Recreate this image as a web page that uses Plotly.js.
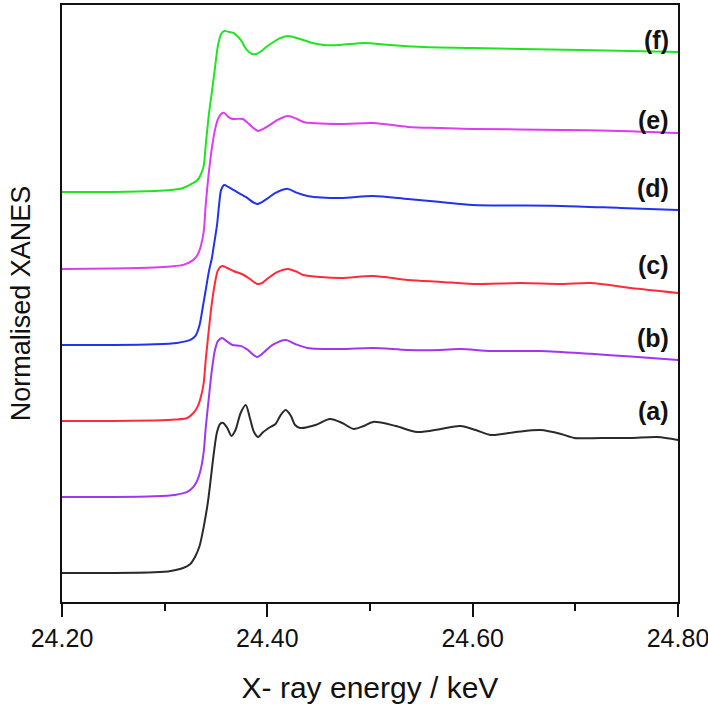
<!DOCTYPE html>
<html>
<head>
<meta charset="utf-8">
<script src="https://cdn.plot.ly/plotly-3.0.1.min.js"></script>
<style>
  html, body { margin: 0; padding: 0; background: #fff; }
  #chart { width: 708px; height: 713px; }
</style>
</head>
<body>
<div id="chart"></div>
<script>
// Normalised XANES spectra, each trace (pre-edge = 0)
const seriesNames = ['(a)', '(b)', '(c)', '(d)', '(e)', '(f)'];
const seriesColors = ['#2a2a2a', '#a035f5', '#ff2a3a', '#2233ee', '#dd3cf2', '#1ee61e'];
const seriesOffsets = [0, 0.563, 1.126, 1.689, 2.252, 2.822];
const labelHeights = [1.2, 1.741, 2.281, 2.852, 3.356, 3.948];

const energyA = [24.200, 24.250, 24.290, 24.306, 24.318, 24.325, 24.330, 24.334, 24.338, 24.342, 24.345, 24.348, 24.351, 24.354,
  24.357, 24.361, 24.365, 24.369, 24.374, 24.379, 24.383, 24.387, 24.391, 24.396, 24.403, 24.408, 24.413, 24.418,
  24.423, 24.427, 24.432, 24.447, 24.461, 24.473, 24.484, 24.494, 24.503, 24.525, 24.546, 24.569, 24.588, 24.603,
  24.618, 24.642, 24.666, 24.686, 24.699, 24.725, 24.754, 24.780, 24.800];
const muA = [0, 0, 0.005, 0.015, 0.037, 0.067, 0.126, 0.200, 0.341, 0.519, 0.704, 0.896, 1.044, 1.104,
  1.111, 1.074, 1.015, 1.059, 1.185, 1.244, 1.148, 1.044, 1.007, 1.044, 1.081, 1.104, 1.170, 1.207,
  1.163, 1.096, 1.074, 1.096, 1.141, 1.111, 1.067, 1.089, 1.119, 1.089, 1.044, 1.067, 1.089, 1.059,
  1.022, 1.044, 1.059, 1.030, 1.0, 1.0, 1.0, 1.007, 0.985];

const energyB = [24.200, 24.250, 24.290, 24.310, 24.322, 24.328, 24.332, 24.335, 24.338, 24.340, 24.343, 24.346, 24.349, 24.352,
  24.356, 24.360, 24.366, 24.374, 24.381, 24.390, 24.397, 24.405, 24.418, 24.427, 24.439, 24.471, 24.503,
  24.537, 24.569, 24.588, 24.618, 24.666, 24.715, 24.754, 24.800];
const muB = [0, 0, 0.005, 0.015, 0.037, 0.074, 0.126, 0.200, 0.333, 0.511, 0.733, 0.941, 1.089, 1.156,
  1.178, 1.156, 1.126, 1.119, 1.089, 1.037, 1.074, 1.126, 1.163, 1.133, 1.104, 1.096, 1.104,
  1.089, 1.089, 1.096, 1.081, 1.081, 1.060, 1.040, 1.015];

const energyC = [24.200, 24.250, 24.290, 24.310, 24.322, 24.328, 24.332, 24.335, 24.338, 24.340, 24.343, 24.346, 24.349, 24.352,
  24.356, 24.361, 24.367, 24.377, 24.383, 24.390, 24.395, 24.401, 24.410, 24.420, 24.429, 24.435, 24.471,
  24.503, 24.537, 24.569, 24.600, 24.647, 24.686, 24.715, 24.754, 24.800];
const muC = [0, 0, 0.004, 0.010, 0.022, 0.059, 0.104, 0.170, 0.281, 0.452, 0.674, 0.874, 1.022, 1.119,
  1.148, 1.133, 1.111, 1.081, 1.052, 1.015, 1.022, 1.059, 1.104, 1.126, 1.104, 1.081, 1.059,
  1.074, 1.044, 1.030, 1.015, 1.022, 1.015, 1.022, 0.985, 0.948];

const energyD = [24.200, 24.250, 24.290, 24.312, 24.325, 24.330, 24.334, 24.337, 24.340, 24.343, 24.346, 24.348, 24.351, 24.353,
  24.355, 24.358, 24.362, 24.367, 24.379, 24.390, 24.398, 24.408, 24.420, 24.429, 24.439, 24.471, 24.503,
  24.537, 24.569, 24.600, 24.686, 24.744, 24.800];
const muD = [0, 0, 0.005, 0.015, 0.037, 0.067, 0.148, 0.274, 0.407, 0.541, 0.644, 0.741, 0.889, 1.037,
  1.148, 1.185, 1.170, 1.148, 1.096, 1.044, 1.074, 1.126, 1.156, 1.126, 1.104, 1.089, 1.104,
  1.081, 1.059, 1.037, 1.030, 1.015, 1.0];

const energyE = [24.200, 24.250, 24.290, 24.306, 24.318, 24.328, 24.332, 24.335, 24.338, 24.340, 24.343, 24.346, 24.349, 24.352,
  24.355, 24.358, 24.362, 24.366, 24.376, 24.383, 24.391, 24.396, 24.401, 24.410, 24.420, 24.429, 24.435,
  24.471, 24.503, 24.537, 24.569, 24.600, 24.686, 24.744, 24.800];
const muE = [0, 0.003, 0.010, 0.018, 0.030, 0.067, 0.104, 0.163, 0.274, 0.474, 0.711, 0.896, 1.030, 1.111,
  1.148, 1.156, 1.126, 1.111, 1.111, 1.067, 1.022, 1.037, 1.059, 1.104, 1.133, 1.111, 1.089,
  1.074, 1.081, 1.052, 1.044, 1.037, 1.030, 1.022, 1.007];

const energyF = [24.200, 24.250, 24.290, 24.306, 24.318, 24.328, 24.332, 24.335, 24.338, 24.340, 24.343, 24.346, 24.349, 24.352,
  24.355, 24.358, 24.363, 24.367, 24.374, 24.380, 24.385, 24.389, 24.393, 24.399, 24.406, 24.413, 24.420,
  24.432, 24.444, 24.455, 24.471, 24.494, 24.520, 24.552, 24.600, 24.647, 24.705, 24.754, 24.800];
const muF = [0, 0, 0.007, 0.015, 0.030, 0.067, 0.089, 0.126, 0.193, 0.348, 0.570, 0.741, 0.919, 1.089,
  1.170, 1.193, 1.185, 1.178, 1.126, 1.052, 1.022, 1.022, 1.037, 1.074, 1.111, 1.141, 1.156,
  1.133, 1.104, 1.089, 1.089, 1.104, 1.089, 1.074, 1.067, 1.059, 1.052, 1.045, 1.037];

const energies = [energyA, energyB, energyC, energyD, energyE, energyF];
const mus = [muA, muB, muC, muD, muE, muF];

const traces = energies.map((x, i) => ({
  x,
  y: mus[i].map((v) => v + seriesOffsets[i]),
  name: seriesNames[i],
  type: 'scatter',
  mode: 'lines',
  line: { color: seriesColors[i], width: 2, shape: 'spline', smoothing: 0.8 },
  hoverinfo: 'skip',
}));

const annotations = seriesNames.map((label, i) => ({
  text: '<b>' + label + '</b>',
  xref: 'paper',
  yref: 'y',
  x: 0.988,
  y: labelHeights[i],
  xanchor: 'right',
  yanchor: 'middle',
  showarrow: false,
  font: { family: 'Liberation Sans, Arial, sans-serif', size: 25, color: '#111' },
}));

const layout = {
  width: 708,
  height: 713,
  margin: { l: 62, r: 30, t: 5, b: 111 },
  paper_bgcolor: '#fff',
  plot_bgcolor: '#fff',
  showlegend: false,
  font: { family: 'Liberation Sans, Arial, sans-serif', color: '#111' },
  xaxis: {
    range: [24.2, 24.8],
    tickvals: [24.2, 24.4, 24.6, 24.8],
    ticktext: ['24.20', '24.40', '24.60', '24.80'],
    ticklabeloverflow: 'allow',
    ticks: 'outside',
    ticklen: 13,
    tickwidth: 2,
    tickcolor: '#111',
    minor: { tickvals: [24.3, 24.5, 24.7], ticks: 'outside', ticklen: 7, tickwidth: 2, tickcolor: '#111', showgrid: false },
    tickfont: { size: 25 },
    showline: true,
    linewidth: 2,
    linecolor: '#111',
    mirror: true,
    showgrid: false,
    zeroline: false,
    title: { text: 'X- ray energy / keV', font: { size: 30 }, standoff: 26 },
  },
  yaxis: {
    range: [-0.215, 4.207],
    showticklabels: false,
    ticks: '',
    showline: true,
    linewidth: 2,
    linecolor: '#111',
    mirror: true,
    showgrid: false,
    zeroline: false,
    title: { text: 'Normalised XANES', font: { size: 27 }, standoff: 22 },
  },
  annotations,
};

Plotly.newPlot('chart', traces, layout, { displayModeBar: false, staticPlot: true });
</script>
</body>
</html>
